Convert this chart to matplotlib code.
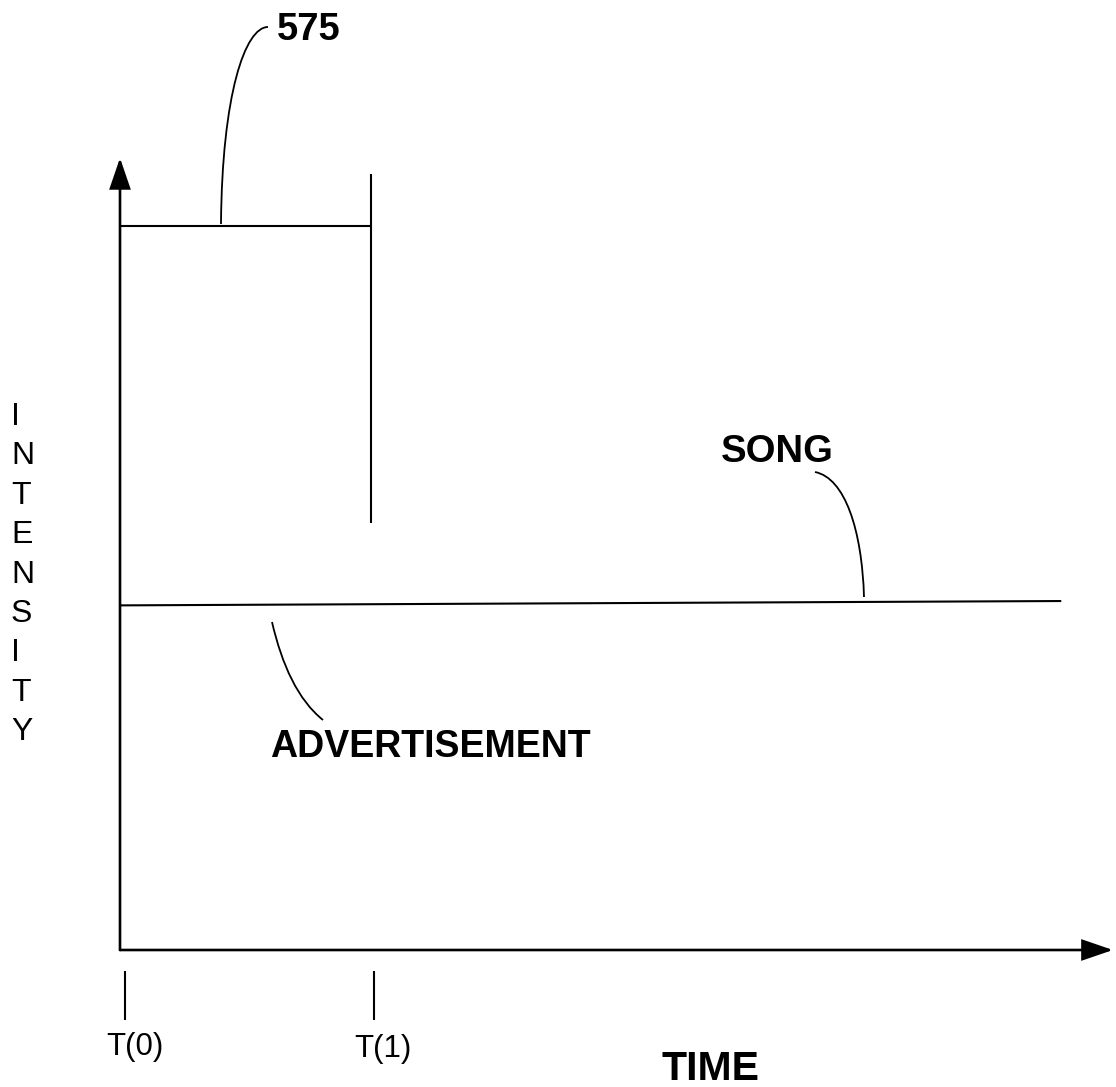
import matplotlib
matplotlib.use('Agg')
import matplotlib.pyplot as plt
from matplotlib.path import Path
from matplotlib.patches import PathPatch, FancyArrowPatch

plt.rcParams['font.family'] = ['Liberation Sans', 'DejaVu Sans']

W, H = 1116, 1087

# ---- data (time in units of T(1)-T(0), intensity relative to advertisement level) ----
time_ticks = [0.02, 1.01]
time_labels = ['T(0)', 'T(1)']
ad_times = [0.0, 1.0]
ad_level = [1.0, 1.0]
ad_cut_time = [1.0, 1.0]
ad_cut_level = [0.59, 1.072]
song_times = [0.0, 3.75]
song_level = [0.476, 0.482]
axis_time_max = 3.956
axis_intensity_max = 1.094
tick_span = [-0.029, -0.097]
y_label_letters = list("INTENSITY")

# ---- pixel mapping helpers (layout only) ----
X0_PX, T_PX = 120, 251
Y0_PX, I_PX = 950, 724


def P(x, y):
    return ((x - X0_PX) / T_PX, (Y0_PX - y) / I_PX)


fig = plt.figure(figsize=(W / 100, H / 100), dpi=100)
fig.patch.set_facecolor('white')
ax = fig.add_axes([0, 0, 1, 1])
ax.set_xlim((0 - X0_PX) / T_PX, (W - X0_PX) / T_PX)
ax.set_ylim((Y0_PX - H) / I_PX, Y0_PX / I_PX)
ax.axis('off')

k = 'black'
AX_LW = 1.9
LW = 1.5

# axes with arrowheads
for start, end in [((0, 0), (0, axis_intensity_max)), ((0, 0), (axis_time_max, 0))]:
    ax.add_patch(FancyArrowPatch(start, end,
                                 arrowstyle='-|>,head_length=1.9,head_width=0.65',
                                 mutation_scale=10, lw=AX_LW, color=k,
                                 shrinkA=0, shrinkB=0, joinstyle='miter'))

# advertisement segment
ax.plot(ad_times, ad_level, color=k, lw=LW, solid_capstyle='butt')
ax.plot(ad_cut_time, ad_cut_level, color=k, lw=LW, solid_capstyle='butt')
# song
ax.plot(song_times, song_level, color=k, lw=LW, solid_capstyle='butt')

# time ticks below axis
ax.vlines(time_ticks, tick_span[0], tick_span[1], color=k, lw=LW)
label_px = [(106, 1055), (354, 1057)]
for lab, (lx, ly) in zip(time_labels, label_px):
    ax.text(*P(lx, ly), lab, fontsize=22.5, ha='left', va='baseline', color=k)

# leader curves
def leader(pts):
    verts = [P(*p) for p in pts]
    codes = [Path.MOVETO, Path.CURVE4, Path.CURVE4, Path.CURVE4]
    ax.add_patch(PathPatch(Path(verts, codes), fill=False, lw=1.3, color=k))

leader([(268, 27), (245, 27), (222, 95), (221, 224)])
leader([(272, 622), (282, 665), (298, 700), (323, 720)])
leader([(815, 472), (845, 478), (862, 530), (864, 597)])

# bold callout labels
ax.text(*P(277, 40), '575', fontsize=27.5, fontweight='bold', ha='left', va='baseline', color=k)
ax.text(*P(721, 462), 'SONG', fontsize=27.5, fontweight='bold', ha='left', va='baseline', color=k)
ax.text(*P(270, 757), 'ADVERTISEMENT', fontsize=27, fontweight='bold', ha='left', va='baseline', color=k)
ax.text(*P(661, 1080), 'TIME', fontsize=29.5, fontweight='bold', ha='left', va='baseline', color=k)

# vertical INTENSITY label, one letter per line
for i, ch in enumerate(y_label_letters):
    ax.text(*P(11, 425 + 39.4 * i), ch, fontsize=23, ha='left', va='baseline', color=k)

fig.savefig('out.png', dpi=100, facecolor='white')
